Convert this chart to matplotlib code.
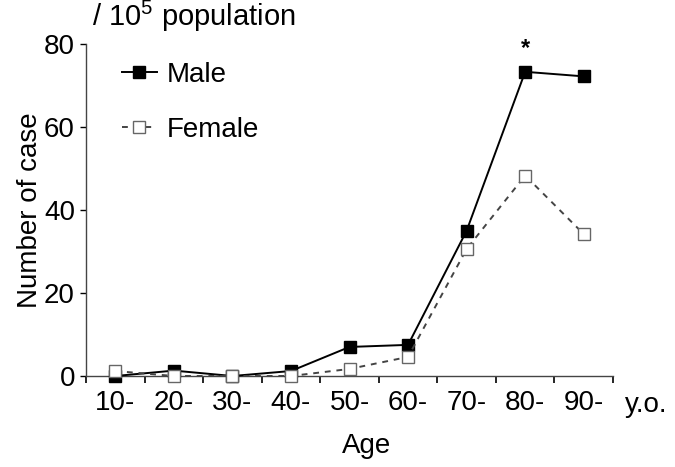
import numpy as np
import matplotlib
matplotlib.use('Agg')
import matplotlib.pyplot as plt

# 数据
age_groups = ['10-', '20-', '30-', '40-', '50-', '60-', '70-', '80-', '90-']
male = [0.0, 1.3, 0.0, 1.2, 7.0, 7.5, 35.0, 73.3, 72.2]
female = [1.2, 0.0, 0.0, 0.0, 1.7, 4.6, 30.6, 48.3, 34.2]
y_ticks = [0, 20, 40, 60, 80]

plt.rcParams['font.family'] = ['Liberation Sans', 'DejaVu Sans']
plt.rcParams['mathtext.fontset'] = 'custom'
plt.rcParams['mathtext.rm'] = 'Liberation Sans'

fs = 20

fig = plt.figure(figsize=(6.75, 4.67), dpi=100)
ax = fig.add_axes([86 / 675, 1 - 376 / 467, 527 / 675, 332 / 467])

x = np.arange(len(age_groups)) + 0.5

ax.plot(x, male, color='black', lw=1.4, marker='s', markersize=8.5,
        markerfacecolor='black', markeredgecolor='black', clip_on=False,
        zorder=3, label='Male')
ax.plot(x, female, color='#444444', lw=1.4, ls=(0, (3, 3)), marker='s',
        markersize=8.5, markerfacecolor='white', markeredgecolor='#666666',
        clip_on=False, zorder=4, label='Female')

# 显著性星号
ax.text(x[7], 79.0, '*', ha='center', va='center', fontsize=17,
        fontweight='bold')

ax.set_xlim(0, len(age_groups))
ax.set_ylim(0, 80)

# 坐标轴
ax.set_xticks(np.arange(len(age_groups) + 1))
ax.set_xticklabels([])
ax.set_xticks(x, minor=True)
ax.set_xticklabels(age_groups, minor=True, fontsize=fs)
ax.tick_params(axis='x', which='minor', length=0, pad=10)
ax.tick_params(axis='x', which='major', length=5, width=1.2, direction='out')
ax.set_yticks(y_ticks)
ax.tick_params(axis='y', labelsize=fs, length=4, width=1.0, pad=4)

for side in ['top', 'right']:
    ax.spines[side].set_visible(False)
for side in ['left', 'bottom']:
    ax.spines[side].set_color('#444444')
    ax.spines[side].set_linewidth(1.0)

ax.set_xlabel('Age', fontsize=fs, labelpad=12)
ax.xaxis.label.set_x(0.533)
ax.set_ylabel('Number of case', fontsize=fs, labelpad=0.5)

ax.text(1.023, -0.087, 'y.o.', transform=ax.transAxes, fontsize=fs,
        ha='left', va='center')
fig.text(92 / 675, 1 - 26 / 467, '/ 10$^5$ population', fontsize=21,
         ha='left', va='baseline')

ax.legend(loc='upper left', bbox_to_anchor=(0.068, 0.946), frameon=False,
          fontsize=fs, handlelength=1.26, handletextpad=0.36,
          labelspacing=1.05, borderpad=0, borderaxespad=0)

plt.savefig('out.png', dpi=100)
plt.close()
